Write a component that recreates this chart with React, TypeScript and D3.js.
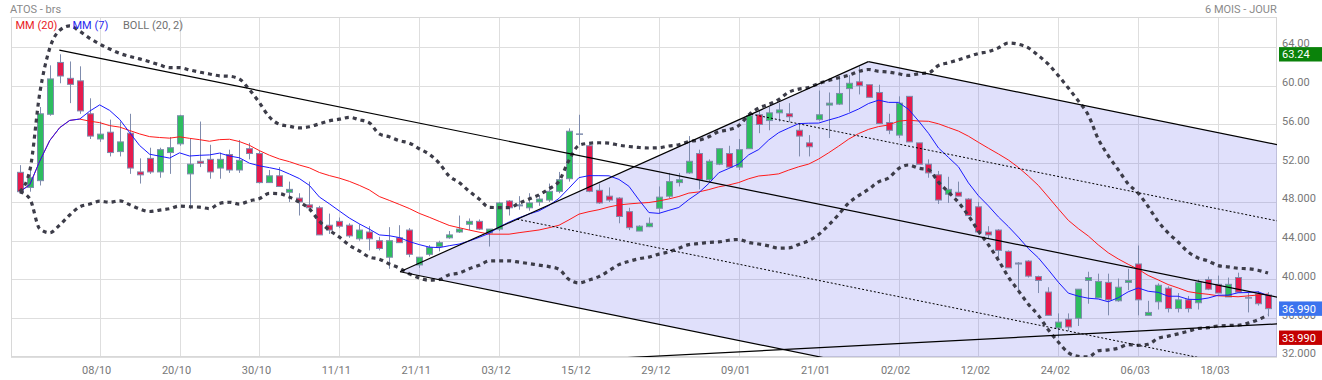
import React from 'react';
import * as d3 from 'd3';

// ---- data (one entry per trading day, 26/09 .. 25/03) ----
const opens = [51.06, 49.5, 50.2, 57.05, 62.4, 60.76, 60.5, 57.1, 54.5, 55.2, 53.2, 55.1, 51.1, 52.5, 51.1, 53.1, 54.0, 50.9, 52.2, 52.4,
  51.5, 52.9, 51.3, 53.5, 53.0, 50.0, 50.7, 49.0, 48.4, 47.7, 47.4, 45.6, 46.0, 45.6, 44.2, 44.9, 44.0, 42.3, 44.3, 45.1,
  41.5, 42.6, 43.4, 44.3, 44.9, 45.7, 46.0, 44.8, 45.2, 48.1, 47.6, 47.4, 48.0, 48.2, 49.1, 50.4, 55.0, 53.8, 49.2, 48.6,
  48.4, 47.0, 45.0, 45.45, 47.35, 48.6, 50.0, 51.0, 53.0, 50.3, 51.9, 53.0, 51.6, 53.5, 57.0, 56.4, 57.2, 57.1, 55.4, 54.1,
  56.5, 58.0, 58.1, 59.7, 60.4, 60.1, 59.3, 56.2, 54.9, 58.9, 54.1, 51.9, 50.8, 48.8, 49.0, 48.3, 47.5, 44.9, 45.1, 42.9,
  41.6, 41.9, 40.3, 38.7, 35.0, 35.9, 36.0, 39.9, 38.1, 39.7, 37.8, 39.7, 41.6, 36.3, 37.7, 39.1, 37.0, 37.9, 37.6, 40.0,
  39.5, 38.2, 40.2, 38.1, 38.5, 38.4];
const highs = [51.8, 51.3, 57.8, 62.1, 63.24, 62.5, 62.0, 58.7, 56.3, 56.5, 56.3, 57.1, 52.5, 53.6, 53.6, 54.7, 57.0, 54.5, 56.3, 53.9,
  53.1, 53.4, 54.4, 54.1, 53.3, 51.3, 51.6, 50.1, 48.9, 50.1, 47.6, 46.8, 46.4, 45.8, 45.7, 45.5, 44.4, 45.4, 45.6, 45.3,
  42.3, 43.55, 44.0, 45.0, 46.6, 46.3, 46.2, 45.2, 48.0, 48.2, 48.6, 48.9, 48.7, 49.9, 51.1, 55.6, 57.0, 53.9, 49.9, 49.5,
  48.5, 47.4, 45.6, 46.4, 49.6, 51.0, 51.0, 54.8, 53.4, 52.4, 53.5, 53.8, 54.5, 57.3, 57.5, 57.8, 58.2, 58.2, 56.1, 54.9,
  59.5, 59.3, 61.0, 61.1, 62.0, 60.1, 60.1, 57.1, 58.9, 58.9, 54.1, 52.4, 51.2, 50.6, 50.1, 48.4, 48.0, 45.5, 45.2, 43.0,
  41.8, 42.0, 40.4, 39.2, 36.5, 36.5, 39.0, 40.8, 40.6, 40.6, 40.1, 41.1, 43.5, 37.8, 39.6, 39.3, 38.6, 38.3, 40.0, 40.3,
  40.4, 40.2, 40.7, 38.6, 38.8, 38.7];
const lows = [48.9, 49.06, 49.7, 56.9, 60.25, 58.2, 57.1, 54.5, 54.2, 52.7, 52.7, 50.9, 49.9, 50.9, 50.5, 50.9, 53.8, 47.25, 51.6, 50.4,
  50.4, 51.0, 51.0, 52.4, 49.9, 50.0, 49.6, 48.0, 46.6, 47.1, 44.6, 44.7, 45.3, 44.3, 44.0, 43.0, 43.0, 41.1, 43.8, 42.3,
  41.2, 42.4, 42.9, 44.2, 44.8, 45.1, 45.1, 43.4, 45.0, 46.6, 47.2, 47.1, 47.6, 48.0, 48.9, 50.1, 53.9, 49.0, 47.8, 48.0,
  45.8, 45.1, 45.0, 45.4, 46.8, 48.4, 49.6, 50.9, 49.3, 50.0, 51.8, 51.6, 51.3, 53.5, 55.1, 55.4, 56.3, 56.3, 52.7, 52.7,
  56.4, 54.6, 58.0, 57.3, 59.1, 58.8, 56.1, 55.0, 54.6, 54.2, 51.9, 50.5, 47.8, 47.9, 48.6, 46.6, 44.9, 44.25, 42.2, 41.2,
  38.9, 40.2, 38.6, 36.3, 33.99, 34.7, 35.2, 37.5, 38.1, 36.3, 37.7, 38.9, 36.3, 36.3, 36.9, 36.6, 36.6, 36.6, 36.9, 38.9,
  38.6, 38.2, 38.7, 36.6, 37.3, 36.2];
const closes = [49.06, 50.5, 57.1, 60.7, 61.0, 60.14, 57.4, 54.8, 55.0, 53.1, 54.2, 51.5, 50.8, 51.1, 53.4, 53.6, 56.9, 51.9, 52.0, 51.1,
  52.4, 51.3, 52.3, 53.0, 50.0, 50.7, 49.6, 49.3, 48.0, 47.4, 44.6, 45.1, 45.5, 44.5, 45.1, 44.2, 43.2, 44.0, 43.8, 42.6,
  42.3, 43.3, 43.8, 44.6, 45.2, 46.0, 45.2, 45.2, 47.9, 47.4, 47.7, 47.9, 48.3, 49.1, 50.3, 55.3, 55.0, 49.1, 47.9, 48.2,
  46.5, 45.35, 45.5, 45.8, 48.5, 50.1, 50.3, 52.2, 50.3, 52.2, 53.5, 51.6, 53.4, 56.9, 56.0, 57.2, 57.5, 56.8, 54.8, 53.7,
  57.0, 58.2, 59.2, 60.25, 60.0, 58.8, 56.1, 55.4, 58.2, 54.2, 51.9, 51.0, 48.2, 49.3, 48.6, 46.6, 44.9, 44.6, 43.0, 41.2,
  41.7, 40.35, 39.9, 36.3, 35.6, 35.1, 39.0, 40.2, 39.8, 37.9, 39.2, 39.9, 37.9, 36.6, 39.4, 37.0, 37.9, 37.0, 39.7, 39.0,
  38.6, 39.5, 38.7, 38.1, 37.5, 36.99];

const xTickIndex = [8, 16, 24, 32, 40, 48, 56, 64, 72, 80, 88, 96, 104, 112, 120];
const xTickLabels = ['08/10', '20/10', '30/10', '11/11', '21/11', '03/12', '15/12', '29/12', '09/01', '21/01', '02/02', '12/02', '24/02', '06/03', '18/03'];
const yTicks = [32, 36, 40, 44, 48, 52, 56, 60, 64];
const yTickLabels = ['32.000', '36.000', '40.000', '44.000', '48.000', '52.00', '56.00', '60.00', '64.00'];

// drawing tools (candle index, price)
const pitchforkIdx = [3.96, 38.08, 84.98];
const pitchforkPrice = [63.68, 40.8, 62.48];
const supportIdx = [98.17, 125.9];
const supportPrice = [33.93, 35.41];

const W = 1322, H = 380;
const L = 11, R = 1277, T = 17, B = 357;
const FONT = 'Roboto, "Noto Sans", sans-serif';

const GREEN = '#2dbd5f';
const RED = '#e61b4d';
const WICK = '#7f8cad';

function sma(vals: number[], n: number) {
  return vals.map((_, i) => d3.mean(vals.slice(Math.max(0, i - n + 1), i + 1)) as number);
}
function bands(vals: number[], n: number, k: number) {
  return vals.map((_, i) => {
    const w = vals.slice(Math.max(0, i - n + 1), i + 1);
    const m = d3.mean(w) as number;
    const sd = Math.sqrt(d3.mean(w.map(v => (v - m) * (v - m))) as number);
    return { up: m + k * sd, lo: m - k * sd };
  });
}

export default function App() {
  const x = d3.scaleLinear().domain([-0.88, 125.9]).range([L, R]);
  const y = d3.scaleLinear().domain([32, 67.09]).range([B, T]);
  const idx = closes.map((_, i) => i);

  const ma20 = sma(closes, 20);
  const ma7 = sma(closes, 7);
  const bb = bands(closes, 20, 2);

  const line = d3.line<number>().x(i => x(i));
  const pMa20 = line.y(i => y(ma20[i]))(idx) as string;
  const pMa7 = d3.line<number>().x(i => x(i)).y(i => y(ma7[i]))(idx) as string;
  const pUp = d3.line<number>().x(i => x(i)).y(i => y(bb[i].up)).curve(d3.curveMonotoneX)(idx) as string;
  const pLo = d3.line<number>().x(i => x(i)).y(i => y(bb[i].lo)).curve(d3.curveMonotoneX)(idx) as string;

  // pitchfork in pixel space
  const P = pitchforkIdx.map((v, k) => [x(v), y(pitchforkPrice[k])]);
  const mid = [(P[1][0] + P[2][0]) / 2, (P[1][1] + P[2][1]) / 2];
  const dir = [mid[0] - P[0][0], mid[1] - P[0][1]];
  const far = (p: number[]) => [p[0] + dir[0] * 4, p[1] + dir[1] * 4];
  const lerp = (t: number) => [P[1][0] + (P[2][0] - P[1][0]) * t, P[1][1] + (P[2][1] - P[1][1]) * t];
  const w1 = lerp(0.25), w2 = lerp(0.75);
  const shade = [P[1], P[2], far(P[2]), far(P[1])].map(p => p.join(',')).join(' ');

  const supSlope = (supportPrice[1] - supportPrice[0]) / (supportIdx[1] - supportIdx[0]);
  const supStart = 50;
  const supY0 = supportPrice[0] + (supStart - supportIdx[0]) * supSlope;

  const maxHigh = d3.max(highs) as number;
  const minLow = d3.min(lows) as number;
  const last = closes[closes.length - 1];

  const badge = (v: number, color: string, txt: string) => (
    <g>
      <rect x={1279} y={y(v) - 7.2} width={43} height={14.4} fill={color} />
      <text x={1282} y={y(v) + 4} fill="#fff" fontSize={11}>{txt}</text>
    </g>
  );

  return (
    <svg width={W} height={H} style={{ position: 'absolute', left: 0, top: 0, background: '#fff' }} fontFamily={FONT}>
      <defs>
        <clipPath id="plot"><rect x={L} y={T} width={R - L} height={B - T} /></clipPath>
      </defs>
      {/* grid */}
      <g stroke="#dedede" strokeWidth={1}>
        {yTicks.map(t => <line key={t} x1={L} x2={R} y1={Math.round(y(t)) + 0.5} y2={Math.round(y(t)) + 0.5} />)}
        {xTickIndex.map(t => <line key={t} x1={Math.round(x(t)) + 0.5} x2={Math.round(x(t)) + 0.5} y1={T} y2={B} />)}
      </g>
      <rect x={L + 0.5} y={T + 0.5} width={R - L - 1} height={B - T - 1} fill="none" stroke="#d8d8d8" />

      <g clipPath="url(#plot)">
        <polygon points={shade} fill="rgb(100,100,235)" fillOpacity={0.2} />

        {/* candles */}
        {idx.map(i => {
          const cx = Math.round(x(i)) + 0.5;
          const o = opens[i], c = closes[i];
          const top = y(Math.max(o, c)), bot = y(Math.min(o, c));
          const doji = Math.abs(o - c) < 0.001;
          return (
            <g key={i}>
              <line x1={cx} x2={cx} y1={y(highs[i])} y2={y(lows[i])} stroke={WICK} strokeWidth={1} />
              {doji ? (
                <line x1={cx - 3.5} x2={cx + 3.5} y1={top} y2={top} stroke={WICK} strokeWidth={1.5} />
              ) : (
                <rect x={cx - 3} y={top} width={6} height={Math.max(1, bot - top)}
                  fill={c > o ? GREEN : RED} stroke={WICK} strokeWidth={1} />
              )}
            </g>
          );
        })}

        {/* indicators */}
        <path d={pMa20} fill="none" stroke="#ff1a1a" strokeWidth={1} />
        <path d={pMa7} fill="none" stroke="#1a1aff" strokeWidth={1} />
        <path d={pUp} fill="none" stroke="#3c3c48" strokeWidth={3.2} strokeDasharray="4 4" />
        <path d={pLo} fill="none" stroke="#3c3c48" strokeWidth={3.2} strokeDasharray="4 4" />

        {/* pitchfork drawing */}
        <g stroke="#000" strokeWidth={1.2} fill="none">
          <line x1={P[0][0]} y1={P[0][1]} x2={far(P[0])[0]} y2={far(P[0])[1]} />
          <line x1={P[1][0]} y1={P[1][1]} x2={P[2][0]} y2={P[2][1]} />
          <line x1={P[1][0]} y1={P[1][1]} x2={far(P[1])[0]} y2={far(P[1])[1]} />
          <line x1={P[2][0]} y1={P[2][1]} x2={far(P[2])[0]} y2={far(P[2])[1]} />
          <line x1={x(supStart)} y1={y(supY0)} x2={x(supportIdx[1])} y2={y(supportPrice[1])} />
        </g>
        <g stroke="#000" strokeWidth={1} strokeDasharray="2 2" fill="none">
          <line x1={w1[0]} y1={w1[1]} x2={far(w1)[0]} y2={far(w1)[1]} />
          <line x1={w2[0]} y1={w2[1]} x2={far(w2)[0]} y2={far(w2)[1]} />
        </g>
      </g>

      {/* x labels */}
      {xTickIndex.map((t, k) => (
        <text key={t} x={x(t) - 3} y={374} textAnchor="middle" fontSize={11} fill="#777">{xTickLabels[k]}</text>
      ))}
      {/* y labels */}
      {yTicks.map((t, k) => (
        <text key={t} x={1282} y={y(t) + 0.3} fontSize={11} fill="#777">{yTickLabels[k]}</text>
      ))}
      {badge(maxHigh, '#0a820a', maxHigh.toFixed(2))}
      {badge(last, '#3b73ee', last.toFixed(3))}
      {badge(minLow, '#c40000', minLow.toFixed(3))}

      {/* header + legend */}
      <text x={10} y={12.7} fontSize={11} fill="#8a8a8a">ATOS - brs</text>
      <text x={1276.7} y={12.7} fontSize={11} fill="#8a8a8a" textAnchor="end">6 MOIS - JOUR</text>
      <text x={15.5} y={28.5} fontSize={11} fill="#e8201e">MM (20)</text>
      <text x={72.5} y={28.5} fontSize={11} fill="#2828ee">MM (7)</text>
      <text x={123} y={28.5} fontSize={11} fill="#707070">BOLL (20, 2)</text>
    </svg>
  );
}
